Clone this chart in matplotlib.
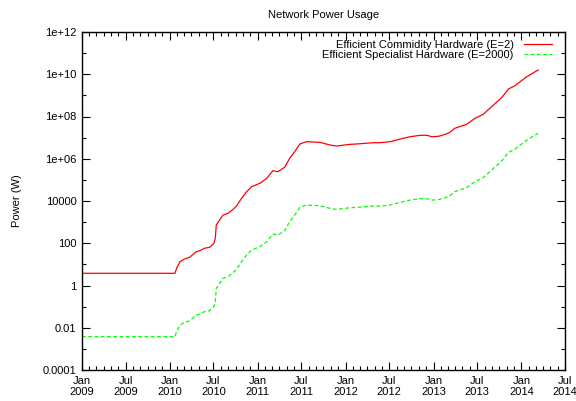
import matplotlib
matplotlib.use("Agg")
import matplotlib.pyplot as plt
import matplotlib.dates as mdates
import numpy as np
import pandas as pd

plt.rcParams['font.family'] = ['Liberation Sans', 'DejaVu Sans']

# power of the network with commodity hardware (E=2)
dates = ["2009-01-01", "2010-01-22", "2010-01-29", "2010-02-12", "2010-03-03",
         "2010-03-24", "2010-04-21", "2010-05-05", "2010-05-25", "2010-06-15",
         "2010-07-03", "2010-07-09", "2010-07-13", "2010-07-27", "2010-08-10",
         "2010-08-31", "2010-09-21", "2010-10-05", "2010-10-26", "2010-11-16",
         "2010-12-07", "2011-01-10", "2011-02-08", "2011-03-05", "2011-03-26",
         "2011-04-23", "2011-05-14", "2011-06-04", "2011-06-25", "2011-07-22",
         "2011-09-16", "2011-10-28", "2011-11-25", "2012-01-19", "2012-02-17",
         "2012-04-25", "2012-05-22", "2012-07-04", "2012-08-15", "2012-09-25",
         "2012-11-06", "2012-12-04", "2012-12-25", "2013-01-22", "2013-02-19",
         "2013-03-10", "2013-03-30", "2013-05-18", "2013-06-22", "2013-07-26",
         "2013-08-30", "2013-10-11", "2013-11-08", "2013-12-06", "2013-12-26",
         "2014-01-24", "2014-03-11"]
power_commodity = [3.78, 3.78, 6.5, 13.4, 18, 21.6, 40, 44, 58, 64,
                   99, 177, 731, 1260, 2170, 2620, 4050, 5800, 13400, 27600,
                   47500, 68900, 1.19e5, 2.72e5, 2.44e5, 3.94e5, 1.05e6, 2.16e6, 5.0e6, 6.4e6,
                   6.0e6, 4.5e6, 4.0e6, 4.8e6, 5.0e6, 5.75e6, 5.75e6, 6.4e6, 8.6e6, 1.1e7,
                   1.29e7, 1.29e7, 1.1e7, 1.16e7, 1.44e7, 1.79e7, 2.76e7, 4.27e7, 8.2e7, 1.27e8,
                   2.9e8, 7.8e8, 2.0e9, 2.9e9, 4.4e9, 7.7e9, 1.6e10]

# efficiencies from the legend
e_commodity = 2
e_specialist = 2000

ytick_vals = [1e12, 1e10, 1e8, 1e6, 1e4, 1e2, 1, 1e-2, 1e-4]
ytick_labels = ["1e+12", "1e+10", "1e+08", "1e+06", "10000", "100", "1", "0.01", "0.0001"]

t = pd.to_datetime(dates)
hashrate = np.array(power_commodity) * e_commodity
power_specialist = hashrate / e_specialist

fig = plt.figure(figsize=(5.76, 4.01), dpi=100)
ax = fig.add_axes([82 / 576, 1 - 370 / 401, (565 - 82) / 576, (370 - 32) / 401])

ax.plot(t, hashrate / e_commodity, color="#ff0000", lw=0.9,
        label="Efficient Commidity Hardware (E=2)")
ax.plot(t, power_specialist, color="#00ff00", lw=0.9, dashes=(3, 2),
        label="Efficient Specialist Hardware (E=2000)")

ax.set_yscale("log")
ax.set_ylim(1e-4, 1e12)
ax.set_yticks(ytick_vals)
ax.set_yticklabels(ytick_labels)
ax.set_yticks([10.0 ** k for k in range(-3, 12, 2)], minor=True)
ax.yaxis.set_minor_formatter(plt.NullFormatter())

ax.set_xlim(pd.Timestamp("2009-01-01"), pd.Timestamp("2014-07-01"))
ax.xaxis.set_major_locator(mdates.MonthLocator(bymonth=[1, 7]))
ax.xaxis.set_major_formatter(mdates.DateFormatter("%b\n%Y"))
ax.xaxis.set_minor_locator(mdates.MonthLocator())

ax.tick_params(which="both", direction="in", top=True, right=True, labelsize=8,
               width=0.8, colors="black")
ax.tick_params(which="major", length=6, pad=4)
ax.tick_params(which="minor", length=3)
for s in ax.spines.values():
    s.set_linewidth(1.0)

ax.set_title("Network Power Usage", fontsize=8, pad=10)
ax.set_ylabel("Power (W)", fontsize=8, labelpad=15)

ax.legend(loc="upper right", bbox_to_anchor=(0.99, 1.0), frameon=False,
          markerfirst=False, fontsize=8, handlelength=2.6, handletextpad=0.9,
          labelspacing=0.05, borderaxespad=0.3)

fig.savefig("out.png", dpi=100)
